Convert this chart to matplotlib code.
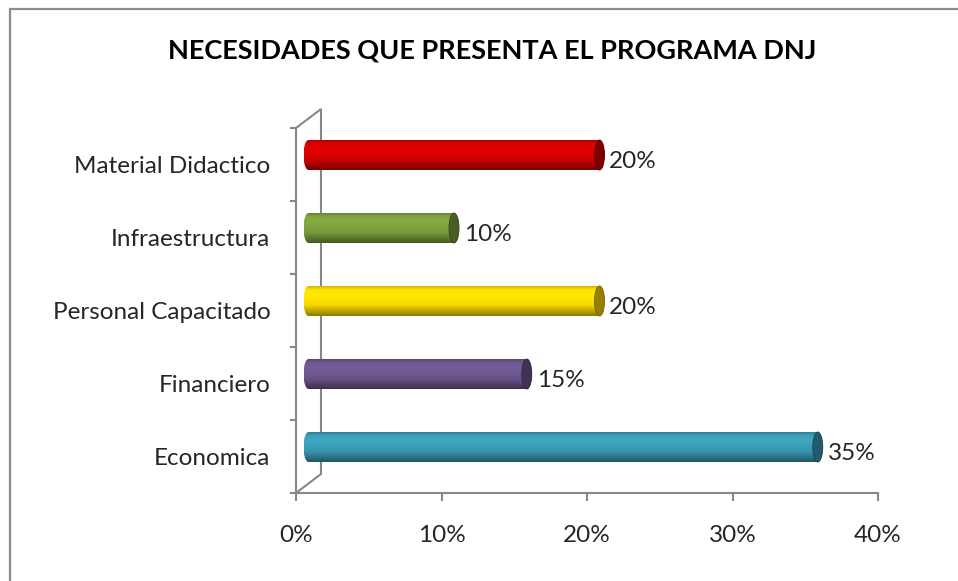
import numpy as np
import matplotlib
matplotlib.use("Agg")
from matplotlib import pyplot as plt
from matplotlib.colors import to_rgb
from matplotlib.patches import Polygon, Ellipse, Rectangle
from matplotlib.transforms import ScaledTranslation

plt.rcParams['font.family'] = ['Lato', 'DejaVu Sans']

# data, bottom to top as drawn
categorias = ["Economica", "Financiero", "Personal Capacitado", "Infraestructura", "Material Didactico"]
valores = [35, 15, 20, 10, 20]
colores = ["#3C9DB8", "#6E5890", "#FFDF00", "#7FA13E", "#D80000"]
xticks = [0, 10, 20, 30, 40]
titulo = "NECESIDADES QUE PRESENTA EL PROGRAMA DNJ"

DPI = 100
W, H = 958, 581
fig = plt.figure(figsize=(W / DPI, H / DPI), dpi=DPI)
fig.patch.set_facecolor("white")

# chart frame (right/bottom edges fall outside the picture)
fig.add_artist(Rectangle((10 / W, -0.05), 1.1, 1 - 9 / H + 0.05, transform=fig.transFigure,
                         fill=False, ec="#8c8c8c", lw=1.6))

ax = fig.add_axes([296 / W, 88 / H, 582 / W, 365 / H])
ax.set_facecolor("none")

gris = "#878787"
texto = "#262626"
for s in ["top", "right"]:
    ax.spines[s].set_visible(False)
for s in ["left", "bottom"]:
    ax.spines[s].set_color(gris)
    ax.spines[s].set_linewidth(1.5)

# 3D depth: back wall lines
dx, dy = 25 / 582, 19 / 365
ax.plot([0, dx, dx, 0], [1, 1 + dy, dy, 0], transform=ax.transAxes, color=gris, lw=1.5,
        clip_on=False, solid_joinstyle="miter")

# bars sit in the middle of the depth
off = ax.transData + ScaledTranslation(12.5 / DPI, 9.5 / DPI, fig.dpi_scale_trans)
px_x = 582 / 40.0
px_y = 365 / 5.0
a = 5 / px_x          # half width of the end caps (data units)
b = 15 / px_y         # half height of the bar

stops = np.array([0.0, 0.12, 0.3, 0.65, 1.0])
fact = np.array([0.82, 1.02, 1.06, 0.95, 0.55])
v = np.linspace(0, 1, 64)
shade = np.interp(v, stops, fact)

t = np.linspace(np.pi / 2, -np.pi / 2, 40)
for i, (val, col) in enumerate(zip(valores, colores)):
    base = np.array(to_rgb(col))
    grad = np.clip(shade[:, None] * base[None, :], 0, 1)[:, None, :]
    right = np.column_stack([val + a * np.cos(t), i + b * np.sin(t)])
    left = np.column_stack([-a * np.cos(t), i - b * np.sin(t)])
    outline = Polygon(np.vstack([right, left]), closed=True, transform=off,
                      fc="none", ec="none")
    ax.add_patch(outline)
    im = ax.imshow(grad, extent=[-a, val + a, i - b, i + b], aspect="auto",
                   transform=off, interpolation="bilinear", zorder=2)
    im.set_clip_path(outline)
    cap = Ellipse((val, i), 2 * a, 2 * b, transform=off, zorder=3,
                  fc=base * 0.58, ec=base * 0.45, lw=0.6)
    ax.add_patch(cap)
    ax.annotate(f"{val}%", xy=(val + a, i), xycoords=off, xytext=(3.5, -4.5),
                textcoords="offset points", ha="left", va="center",
                fontsize=17.5, color=texto)

ax.set_xlim(0, 40)
ax.set_ylim(-0.5, 4.5)

ax.set_xticks(xticks)
ax.set_xticklabels([f"{x}%" for x in xticks])
ax.tick_params(axis="x", direction="out", length=5.8, width=1.5, color=gris,
               pad=17, labelsize=17.5, labelcolor=texto)
ax.set_yticks(np.arange(-0.5, 5, 1))
ax.set_yticklabels([])
ax.tick_params(axis="y", which="major", direction="out", length=4.3, width=1.5, color=gris)
ax.set_yticks(range(len(categorias)), minor=True)
ax.set_yticklabels(categorias, minor=True)
ax.tick_params(axis="y", which="minor", length=0, pad=18.5, labelsize=17.5, labelcolor=texto)

fig.text(492 / W, 1 - 50 / H, titulo, ha="center", va="center", fontsize=19.5,
         fontweight="bold", color="black")

fig.savefig("out.png", dpi=DPI)
